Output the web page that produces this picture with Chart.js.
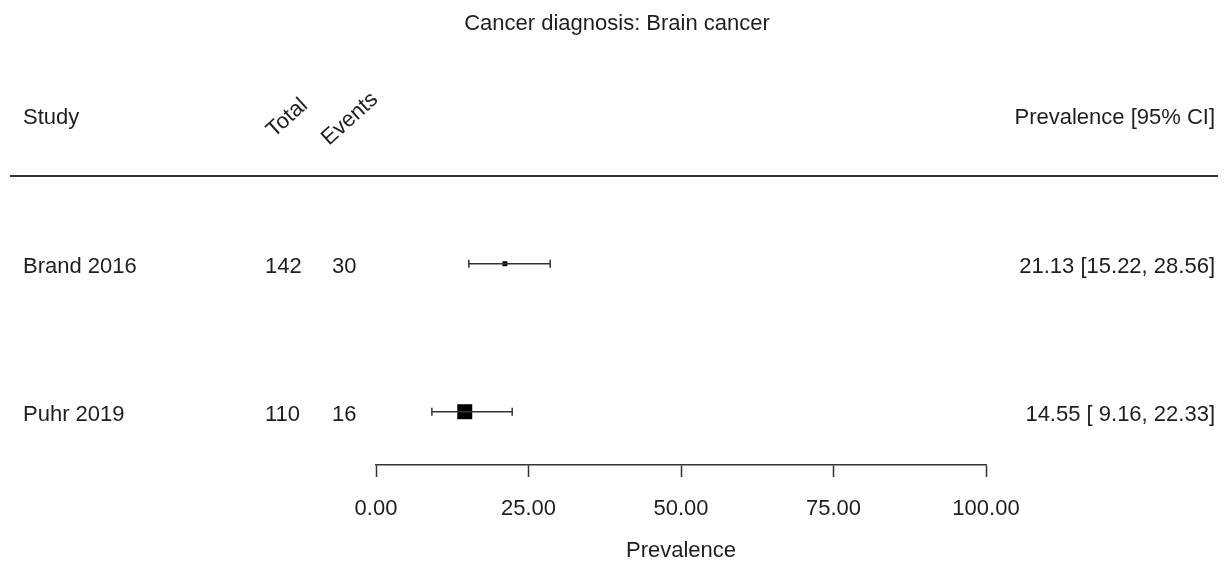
<!DOCTYPE html>
<html>
<head>
<meta charset="utf-8">
<script src="https://cdn.jsdelivr.net/npm/chart.js@4"></script>
<style>
  body { margin: 0; background: #fff; }
  canvas { display: block; }
</style>
</head>
<body>
<canvas id="forest" width="1226" height="564"></canvas>
<script>
const studies = ["Brand 2016", "Puhr 2019"];
const totals = [142, 110];
const eventCounts = [30, 16];
const estimates = [21.13, 14.55];
const lowerCI = [15.22, 9.16];
const upperCI = [28.56, 22.33];
const xTicks = [0, 25, 50, 75, 100];

const FONT = '"Liberation Sans", Arial, sans-serif';
const INK = "#1e1e1e";

// first study sits on top
const rowOf = i => studies.length - i;
const fmt = v => v.toFixed(2).padStart(5, " ");

const ciSets = studies.map((s, i) => ({
  label: s + " CI",
  data: [{ x: lowerCI[i], y: rowOf(i) }, { x: upperCI[i], y: rowOf(i) }],
  showLine: true,
  borderColor: "#333",
  borderWidth: 1.5,
  pointStyle: "line",
  pointRotation: 90,
  pointRadius: 4,
  pointHoverRadius: 4,
  pointBorderWidth: 1.5,
  pointBorderColor: "#333",
}));

const estSet = {
  label: "Estimate",
  data: estimates.map((v, i) => ({ x: v, y: rowOf(i) })),
  pointStyle: "rect",
  pointRadius: [3.5, 10.6],
  pointHoverRadius: [3.5, 10.6],
  backgroundColor: "#000",
  borderWidth: 0,
};

const textPlugin = {
  id: "forestText",
  afterDraw(chart) {
    const ctx = chart.ctx;
    const yScale = chart.scales.y;
    ctx.save();
    ctx.fillStyle = INK;
    ctx.font = "22px " + FONT;
    ctx.textBaseline = "middle";

    ctx.textAlign = "center";
    ctx.fillText("Cancer diagnosis: Brain cancer", 617, 24);
    ctx.textAlign = "left";
    ctx.fillText("Study", 23, 118);
    ctx.textAlign = "right";
    ctx.fillText("Prevalence [95% CI]", 1215, 118);

    // slanted column headers
    ctx.textAlign = "left";
    ctx.textBaseline = "alphabetic";
    [["Total", 274, 138], ["Events", 329, 146]].forEach(([t, x, y]) => {
      ctx.save();
      ctx.translate(x, y);
      ctx.rotate(-42 * Math.PI / 180);
      ctx.fillText(t, 0, 0);
      ctx.restore();
    });

    ctx.strokeStyle = "#333";
    ctx.lineWidth = 2;
    ctx.beginPath();
    ctx.moveTo(10, 176);
    ctx.lineTo(1218, 176);
    ctx.stroke();

    ctx.textBaseline = "middle";
    studies.forEach((s, i) => {
      const py = yScale.getPixelForValue(rowOf(i)) + 3;
      ctx.textAlign = "left";
      ctx.fillText(s, 23, py);
      ctx.fillText(String(totals[i]), 265, py);
      ctx.fillText(String(eventCounts[i]), 332, py);
      ctx.textAlign = "right";
      ctx.fillText(`${estimates[i].toFixed(2)} [${fmt(lowerCI[i])}, ${upperCI[i].toFixed(2)}]`, 1215, py);
    });
    ctx.restore();
  },
};

new Chart(document.getElementById("forest"), {
  type: "scatter",
  data: { datasets: [...ciSets, estSet] },
  plugins: [textPlugin],
  options: {
    responsive: false,
    animation: false,
    layout: { padding: { top: 169, left: 376, right: 240, bottom: 0 } },
    plugins: { legend: { display: false }, tooltip: { enabled: false } },
    scales: {
      x: {
        type: "linear",
        min: 0,
        max: 100,
        afterBuildTicks: scale => { scale.ticks = xTicks.map(v => ({ value: v })); },
        afterFit: scale => { scale.height = 99; },
        grid: { drawOnChartArea: false, tickLength: 12, tickColor: "#333", tickWidth: 1.5 },
        border: { display: true, color: "#333", width: 1.5 },
        ticks: {
          padding: 19,
          color: INK,
          font: { family: FONT, size: 22 },
          callback: v => v.toFixed(2),
          maxRotation: 0,
        },
        title: {
          display: true,
          text: "Prevalence",
          color: INK,
          font: { family: FONT, size: 22 },
          padding: { top: 0, bottom: 0 },
        },
      },
      y: { type: "linear", display: false, min: 0.64, max: 2.64 },
    },
  },
});
</script>
</body>
</html>
